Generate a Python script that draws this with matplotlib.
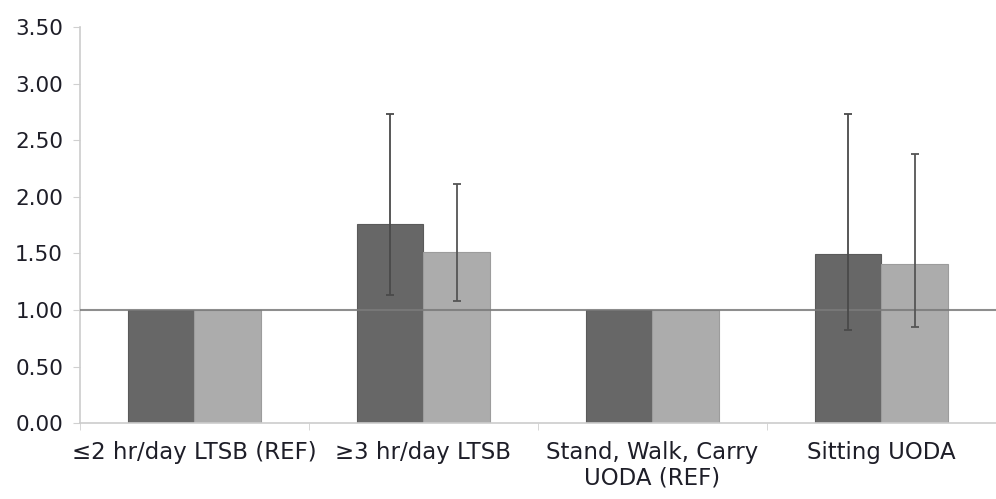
import matplotlib.pyplot as plt
import numpy as np

categories = ["\u22642 hr/day LTSB (REF)", "\u22653 hr/day LTSB",
              "Stand, Walk, Carry\nUODA (REF)", "Sitting UODA"]
dark_vals = [1.00, 1.76, 1.00, 1.49]
light_vals = [1.00, 1.51, 1.00, 1.41]
dark_lo = [np.nan, 1.13, np.nan, 0.82]
dark_hi = [np.nan, 2.73, np.nan, 2.73]
light_lo = [np.nan, 1.08, np.nan, 0.85]
light_hi = [np.nan, 2.11, np.nan, 2.38]

plt.rcParams["font.family"] = ["DejaVu Sans"]

fig = plt.figure(figsize=(9.96, 4.99), dpi=100)
ax = fig.add_axes([0.080, 0.152, 0.920, 0.794])

x = np.arange(len(categories))
w = 0.29
dark_x = x - w / 2
light_x = x + w / 2

ax.bar(dark_x, dark_vals, width=w, color="#676767", edgecolor="#5a5a5a", linewidth=0.8, zorder=2)
ax.bar(light_x, light_vals, width=w, color="#acacac", edgecolor="#9c9c9c", linewidth=0.8, zorder=2)

dv = np.array(dark_vals)
lv = np.array(light_vals)
dyerr = [dv - np.array(dark_lo), np.array(dark_hi) - dv]
lyerr = [lv - np.array(light_lo), np.array(light_hi) - lv]
ax.errorbar(dark_x, dv, yerr=dyerr, fmt="none", ecolor="#4a4a4a", elinewidth=1.3, capsize=3, capthick=1.3, zorder=4)
ax.errorbar(light_x, lv, yerr=lyerr, fmt="none", ecolor="#555555", elinewidth=1.3, capsize=3, capthick=1.3, zorder=4)

ax.axhline(1.0, color="#7a7a7a", linewidth=1.5, alpha=0.85, zorder=3)

ax.set_xlim(-0.5, len(categories) - 0.5)
ax.set_ylim(0, 3.5)
ax.set_yticks(np.arange(0, 3.51, 0.5))
ax.set_yticklabels([f"{v:.2f}" for v in np.arange(0, 3.51, 0.5)], fontsize=15.5, color="#1e1e28")

ax.set_xticks(x)
ax.set_xticklabels(categories, fontsize=16.5, color="#1e1e28", linespacing=1.1)
ax.set_xticks(np.arange(-0.5, len(categories)), minor=True)
ax.tick_params(axis="x", which="major", length=0, pad=13)
ax.tick_params(axis="x", which="minor", length=5, color="#d0d0d0", direction="out")
ax.tick_params(axis="y", length=5, color="#d0d0d0", pad=7)

for s in ["top", "right"]:
    ax.spines[s].set_visible(False)
for s in ["left", "bottom"]:
    ax.spines[s].set_color("#cccccc")
    ax.spines[s].set_linewidth(1.2)

fig.savefig("out.png", dpi=100)
